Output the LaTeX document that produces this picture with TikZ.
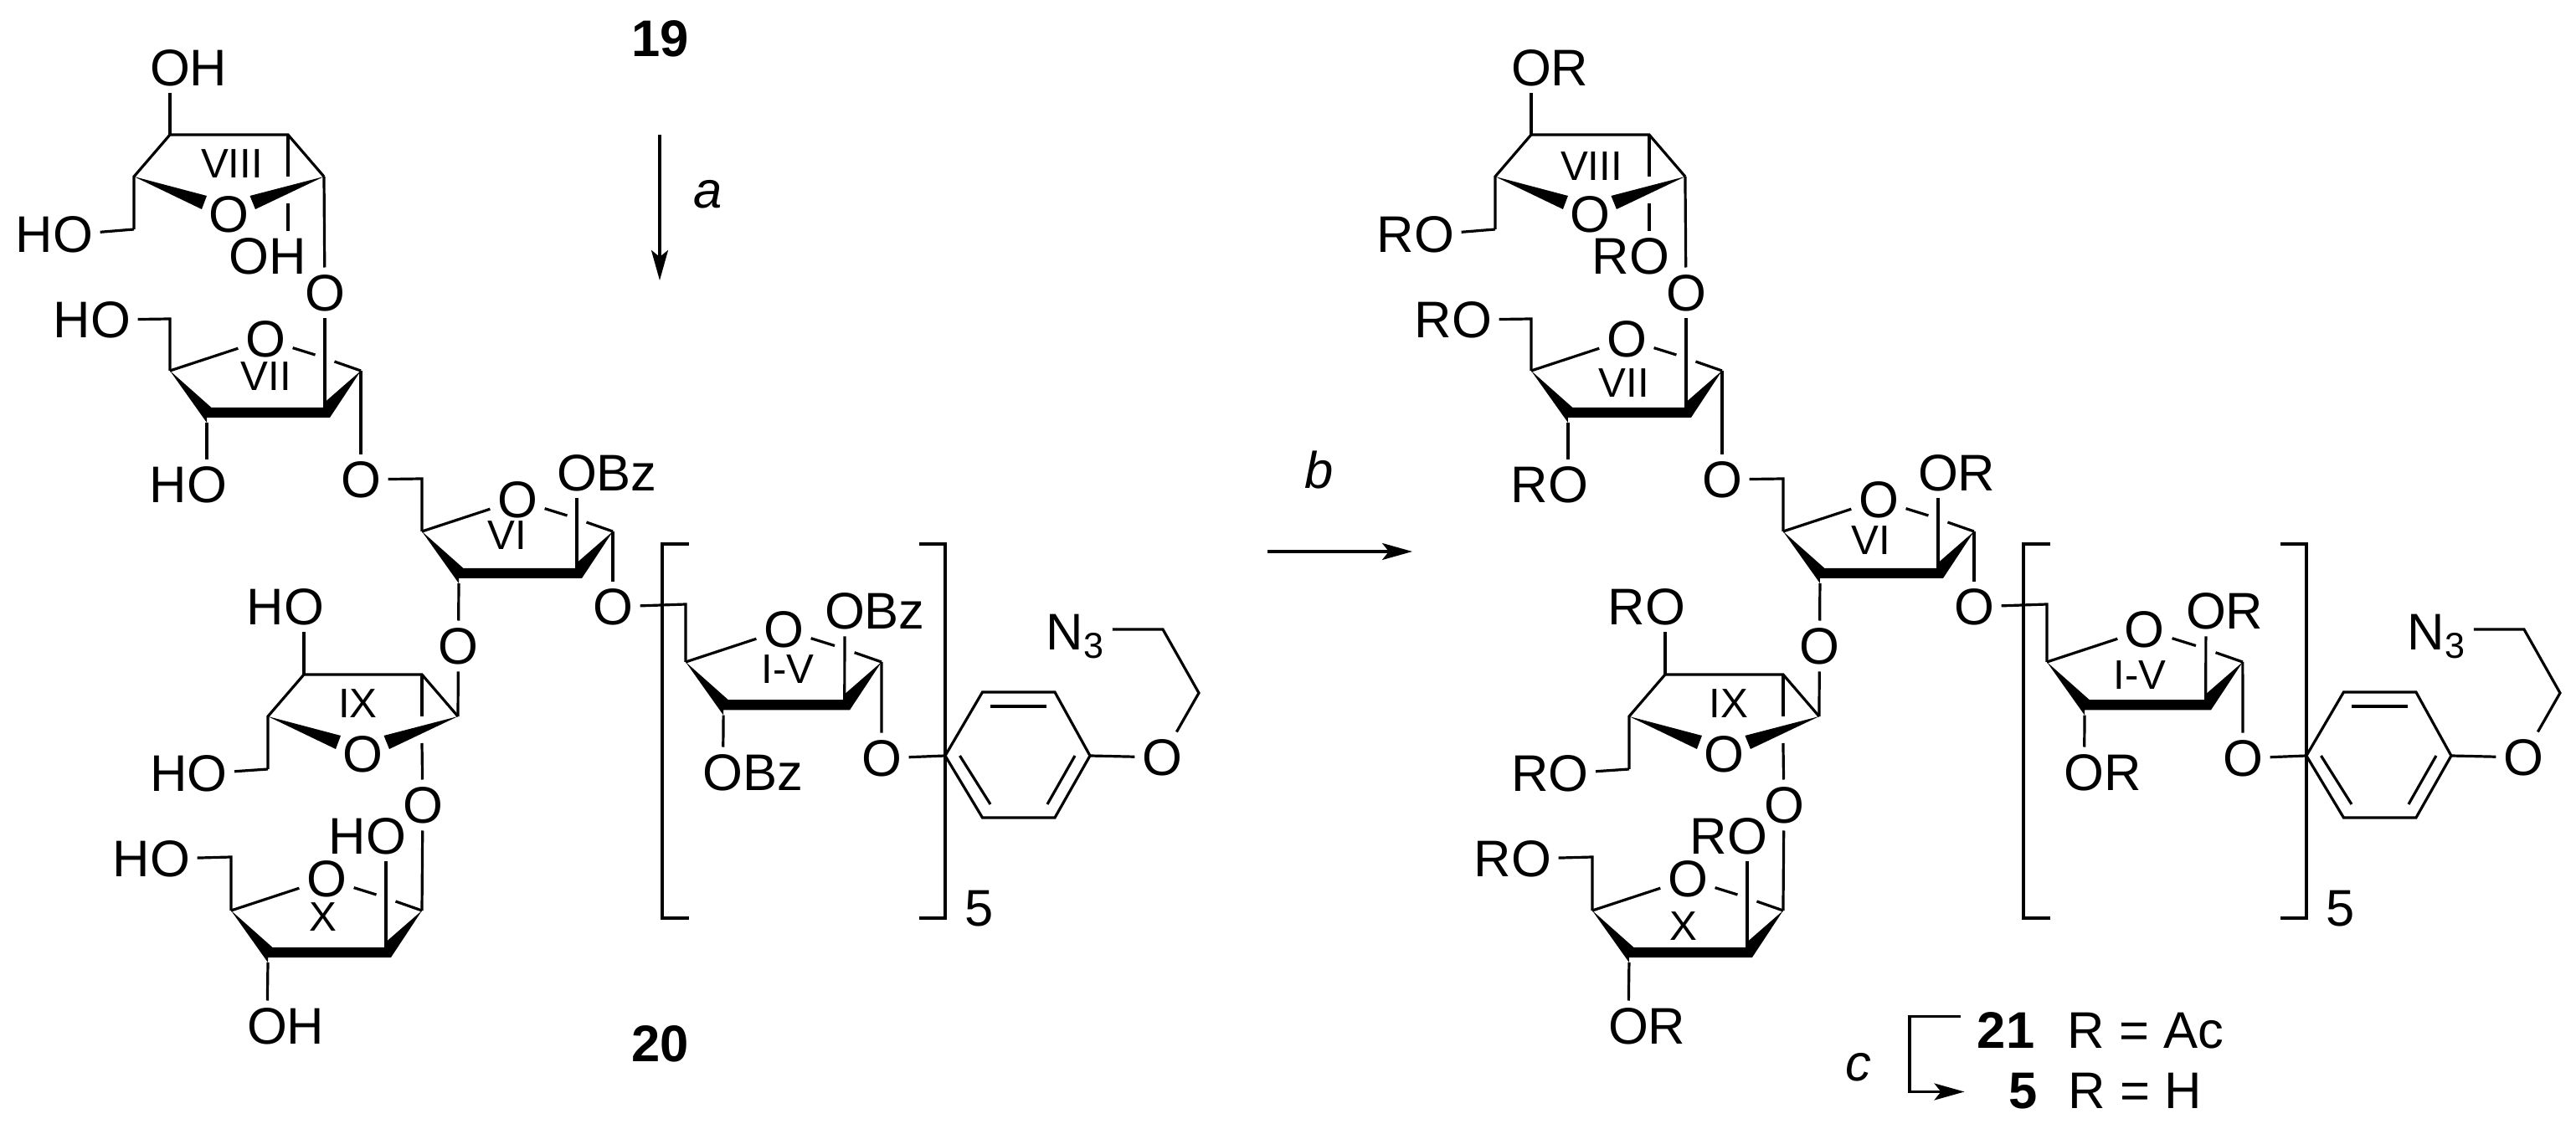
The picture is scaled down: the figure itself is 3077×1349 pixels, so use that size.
\documentclass[tikz,border=0pt]{standalone}
\usepackage{fontspec}
\setmainfont{Liberation Sans}
\usetikzlibrary{arrows.meta}
\tikzset{
  % five-ring seen with the thick edge in front
  fura/.pic={
    \coordinate (-l) at (0,0);
    \coordinate (-r) at (228,0);
    \coordinate (-t) at (185,44);
    \coordinate (-b) at (44,62);
    \node[atom] (-o) at (114,-37.5) {O};
    \fill (-l) -- (49.5,44) -- (185,44) -- (185,37.5) -- (-r) -- (191,56) -- (44,56) -- (-b) -- cycle;
    \draw[bond] (-l) -- (-o) -- (173.5,-19);
    \draw[bond] (196.5,-11) -- (-r);
  },
  % five-ring seen with the oxygen in front
  furb/.pic={
    \coordinate (-a) at (0,0);
    \coordinate (-b) at (141,0);
    \coordinate (-c) at (184,50);
    \coordinate (-d) at (-43,50);
    \coordinate (-e) at (-43,113);
    \coordinate (-u) at (141,82);
    \node[atom] (-o) at (70,95) {O};
    \fill (-d) -- (44,73) -- (38,89) -- cycle;
    \fill (-c) -- (95.5,73) -- (102,89) -- cycle;
    \draw[bond] (-e) -- (-d) -- (-a) -- (-b) -- (-c);
    \draw[bond] (-b) -- (141,50);
  }
}
\begin{document}
\begin{tikzpicture}[x=0.01cm, y=-0.01cm,
      every node/.style = {font=\fontsize{17.5}{20}\selectfont},
      atom/.style = {inner sep=0.08cm},
      ringlabel/.style = {inner sep=0pt, font=\fontsize{14}{16}\selectfont},
      bond/.style = {line width=0.032cm},
      reaction/.style = {line width=0.032cm, -{Stealth[length=0.36cm, width=0.2cm, inset=0.08cm]}}]
  \useasboundingbox (0,0) rectangle (3077,1349);
  % same skeleton twice, only the protecting groups change
  \foreach \cmp/\dx/\rh/\rz/\rb in {l/0cm/H/Bz/{\llap{O}H}, r/16.25cm/R/R/{\llap{R}O}} {
    \begin{scope}[xshift=\dx]
      % ring VIII
      \pic (\cmp r8) at (203,161) {furb};
      \node[atom] (\cmp o8a) at (203,81) {O\rlap{\rh}};
      \node[atom] (\cmp o8b) at (87,280) {\llap{\rh}O};
      \node[atom] (\cmp o8c) at (344,306) {\rb};
      \node[atom] (\cmp o87) at (388,350) {O};
      \draw[bond] (\cmp o8a) -- (\cmp r8-a);
      \draw[bond] (\cmp r8-e) -- (\cmp o8b);
      \draw[bond] (\cmp r8-u) -- (\cmp o8c);
      \draw[bond] (\cmp r8-c) -- (\cmp o87);
      % ring VII
      \pic (\cmp r7) at (203,443) {fura};
      \coordinate (\cmp c7) at (203,381);
      \coordinate (\cmp c6) at (504,572);
      \node[atom] (\cmp o7a) at (132,382) {\llap{\rh}O};
      \node[atom] (\cmp o7b) at (247,579) {\llap{\rh}O};
      \node[atom] (\cmp o76) at (431,573) {O};
      \draw[bond] (\cmp o87) -- (\cmp r7-t);
      \draw[bond] (\cmp o7a) -- (\cmp c7) -- (\cmp r7-l);
      \draw[bond] (\cmp r7-b) -- (\cmp o7b);
      \draw[bond] (\cmp r7-r) -- (\cmp o76);
      % ring VI
      \pic (\cmp r6) at (504,635) {fura};
      \coordinate (\cmp c1) at (819,722);
      \node[atom] (\cmp o6a) at (689,565) {O\rlap{\rz}};
      \node[atom] (\cmp o61) at (732,725) {O};
      \node[atom] (\cmp o69) at (547.5,772) {O};
      \draw[bond] (\cmp o76) -- (\cmp c6) -- (\cmp r6-l);
      \draw[bond] (\cmp o6a) -- (\cmp r6-t);
      \draw[bond] (\cmp r6-r) -- (\cmp o61);
      \draw[bond] (\cmp r6-b) -- (\cmp o69);
      % ring IX
      \pic (\cmp r9) at (363,806) {furb};
      \node[atom] (\cmp o9a) at (363,725) {\llap{\rh}O};
      \node[atom] (\cmp o9b) at (247.5,924) {\llap{\rh}O};
      \node[atom] (\cmp o9x) at (505,962) {O};
      \draw[bond] (\cmp o69) -- (\cmp r9-c);
      \draw[bond] (\cmp o9a) -- (\cmp r9-a);
      \draw[bond] (\cmp r9-e) -- (\cmp o9b);
      \draw[bond] (\cmp r9-u) -- (\cmp o9x);
      % ring X
      \pic (\cmp rx) at (276,1088) {fura};
      \coordinate (\cmp cx) at (276,1024);
      \node[atom] (\cmp oxa) at (203,1026) {\llap{\rh}O};
      \node[atom] (\cmp oxb) at (461,999) {\llap{\rh}O};
      \node[atom] (\cmp oxc) at (319,1226) {O\rlap{\rh}};
      \draw[bond] (\cmp o9x) -- (\cmp rx-r);
      \draw[bond] (\cmp oxa) -- (\cmp cx) -- (\cmp rx-l);
      \draw[bond] (\cmp oxb) -- (\cmp rx-t);
      \draw[bond] (\cmp rx-b) -- (\cmp oxc);
      % ring I-V in brackets
      \pic[scale=1.026] (\cmp r1) at (819,791) {fura};
      \node[atom] (\cmp o1a) at (1009,730) {O\rlap{\rz}};
      \node[atom] (\cmp o1b) at (863.5,923) {O\rlap{\rz}};
      \node[atom] (\cmp o1c) at (1053,906) {O};
      \draw[bond] (\cmp o61) -- (\cmp c1) -- (\cmp r1-l);
      \draw[bond] (\cmp o1a) -- (\cmp r1-t);
      \draw[bond] (\cmp r1-b) -- (\cmp o1b);
      \draw[bond] (\cmp r1-r) -- (\cmp o1c);
      \draw[bond] (823,650) -- (791,650) -- (791,1097) -- (823,1097);
      \draw[bond] (1098,650) -- (1129,650) -- (1129,1097) -- (1098,1097);
      \node[inner sep=0pt] (\cmp n5) at (1169.5,1086) {5};
      % aryl and azidoethyl
      \coordinate (\cmp a1) at (1129,903);
      \coordinate (\cmp a2) at (1173.5,827);
      \coordinate (\cmp a3) at (1260,827);
      \coordinate (\cmp a4) at (1302,903);
      \coordinate (\cmp a5) at (1260,977);
      \coordinate (\cmp a6) at (1173.5,977);
      \coordinate (\cmp e1) at (1432,828);
      \coordinate (\cmp e2) at (1389,752);
      \node[atom] (\cmp o2) at (1388,905) {O};
      \node[atom, anchor=base] (\cmp n3) at (1285,777) {N\textsubscript{3}};
      \draw[bond] (\cmp o1c) -- (\cmp a1);
      \draw[bond] (\cmp a1) -- (\cmp a2) -- (\cmp a3) -- (\cmp a4) -- (\cmp a5) -- (\cmp a6) -- cycle;
      \draw[bond] (1183,844) -- (1250,844);
      \draw[bond] (1146.5,903) -- (1183,961);
      \draw[bond] (1284,903) -- (1251,961);
      \draw[bond] (\cmp a4) -- (\cmp o2) -- (\cmp e1) -- (\cmp e2) -- (\cmp e2 -| \cmp n3.east);
    \end{scope}
  }
  % ring numbers sit differently in the two drawings
  \foreach \t/\x/\y in {VIII/277/196, VII/318/450, VI/606/640, IX/427.5/841, X/386/1096, I-V/941/800,
      VIII/1901/199, VII/1940/458, VI/2235/646, IX/2065/841, X/2011/1107, I-V/2556/807} {
    \node[ringlabel] (lab\x) at (\x,\y) {\t};
  }
  % reaction text
  \node (n19) at (789,46) {\bfseries 19};
  \node (n20) at (789,1247) {\bfseries 20};
  \coordinate (aa) at (788,161);
  \coordinate (ab) at (788,335);
  \draw[reaction] (aa) -- (ab);
  \node (la) at (846,232) {\itshape a};
  \coordinate (ba) at (1514,659);
  \coordinate (bb) at (1687,659);
  \draw[reaction] (ba) -- (bb);
  \node (lb) at (1576,562) {\itshape b};
  \coordinate (ca) at (2342,1214.5);
  \coordinate (cb) at (2281,1214.5);
  \coordinate (cc) at (2281,1304.5);
  \coordinate (cd) at (2346.5,1304.5);
  \draw[reaction] (ca) -- (cb) -- (cc) -- (cd);
  \node (lc) at (2220,1275) {\itshape c};
  \node[anchor=base, inner sep=0pt] (n21) at (2396,1252.5) {\bfseries 21};
  \node[anchor=base west, inner sep=0pt] (rac) at (2469,1252.5) {R = Ac};
  \node[anchor=base, inner sep=0pt] (n5) at (2417,1324) {\bfseries 5};
  \node[anchor=base west, inner sep=0pt] (rh) at (2470,1324) {R = H};
\end{tikzpicture}
\end{document}
